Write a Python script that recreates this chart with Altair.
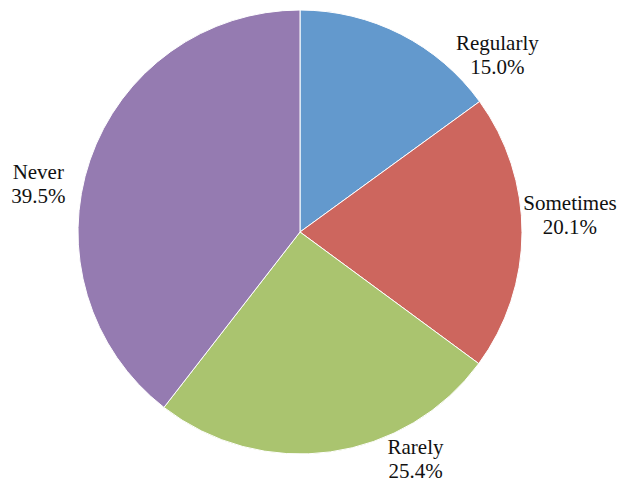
import altair as alt
import pandas as pd

categories = ["Regularly", "Sometimes", "Rarely", "Never"]
values = [15.0, 20.1, 25.4, 39.5]
labels = ["Regularly\n15.0%", "Sometimes\n20.1%", "Rarely\n25.4%", "Never\n39.5%"]
colors = ["#6399CD", "#CD665E", "#AAC46F", "#957BB1"]

df = pd.DataFrame({"category": categories, "value": values, "label": labels,
                   "order": list(range(len(categories)))})
df["end"] = df["value"].cumsum()
df["start"] = df["end"] - df["value"]
df["mid"] = (df["start"] + df["end"]) / 2

color_scale = alt.Scale(domain=categories, range=colors)

base = alt.Chart(df)

pie = base.mark_arc(outerRadius=222, stroke="white", strokeWidth=1).encode(
    theta=alt.Theta("value:Q", stack=True),
    order=alt.Order("order:Q"),
    color=alt.Color("category:N", scale=color_scale, legend=None),
)

# label nudges (layout) per category
nudges = {
    "Regularly": (77, 48),
    "Sometimes": (5, -29),
    "Rarely": (79, -46),
    "Never": (-11, 27),
}

layers = [pie]
for cat in categories:
    dx, dy = nudges[cat]
    layers.append(
        base.transform_filter(alt.datum.category == cat)
        .mark_text(radius=265, dx=dx, dy=dy,
                   font="Times New Roman, Liberation Serif, serif", fontSize=21,
                   lineBreak="\n", lineHeight=24, align="center", baseline="middle",
                   color="#111111")
        .encode(theta=alt.Theta("mid:Q", stack=None), text="label:N")
    )

chart = alt.layer(*layers).properties(
    width=584, height=448,
    autosize=alt.AutoSizeParams(type="none"),
    padding={"left": 0, "top": 0, "right": 25, "bottom": 27},
).configure_view(stroke=None)

chart.save("out.html", embed_options={"renderer": "svg", "actions": False})
